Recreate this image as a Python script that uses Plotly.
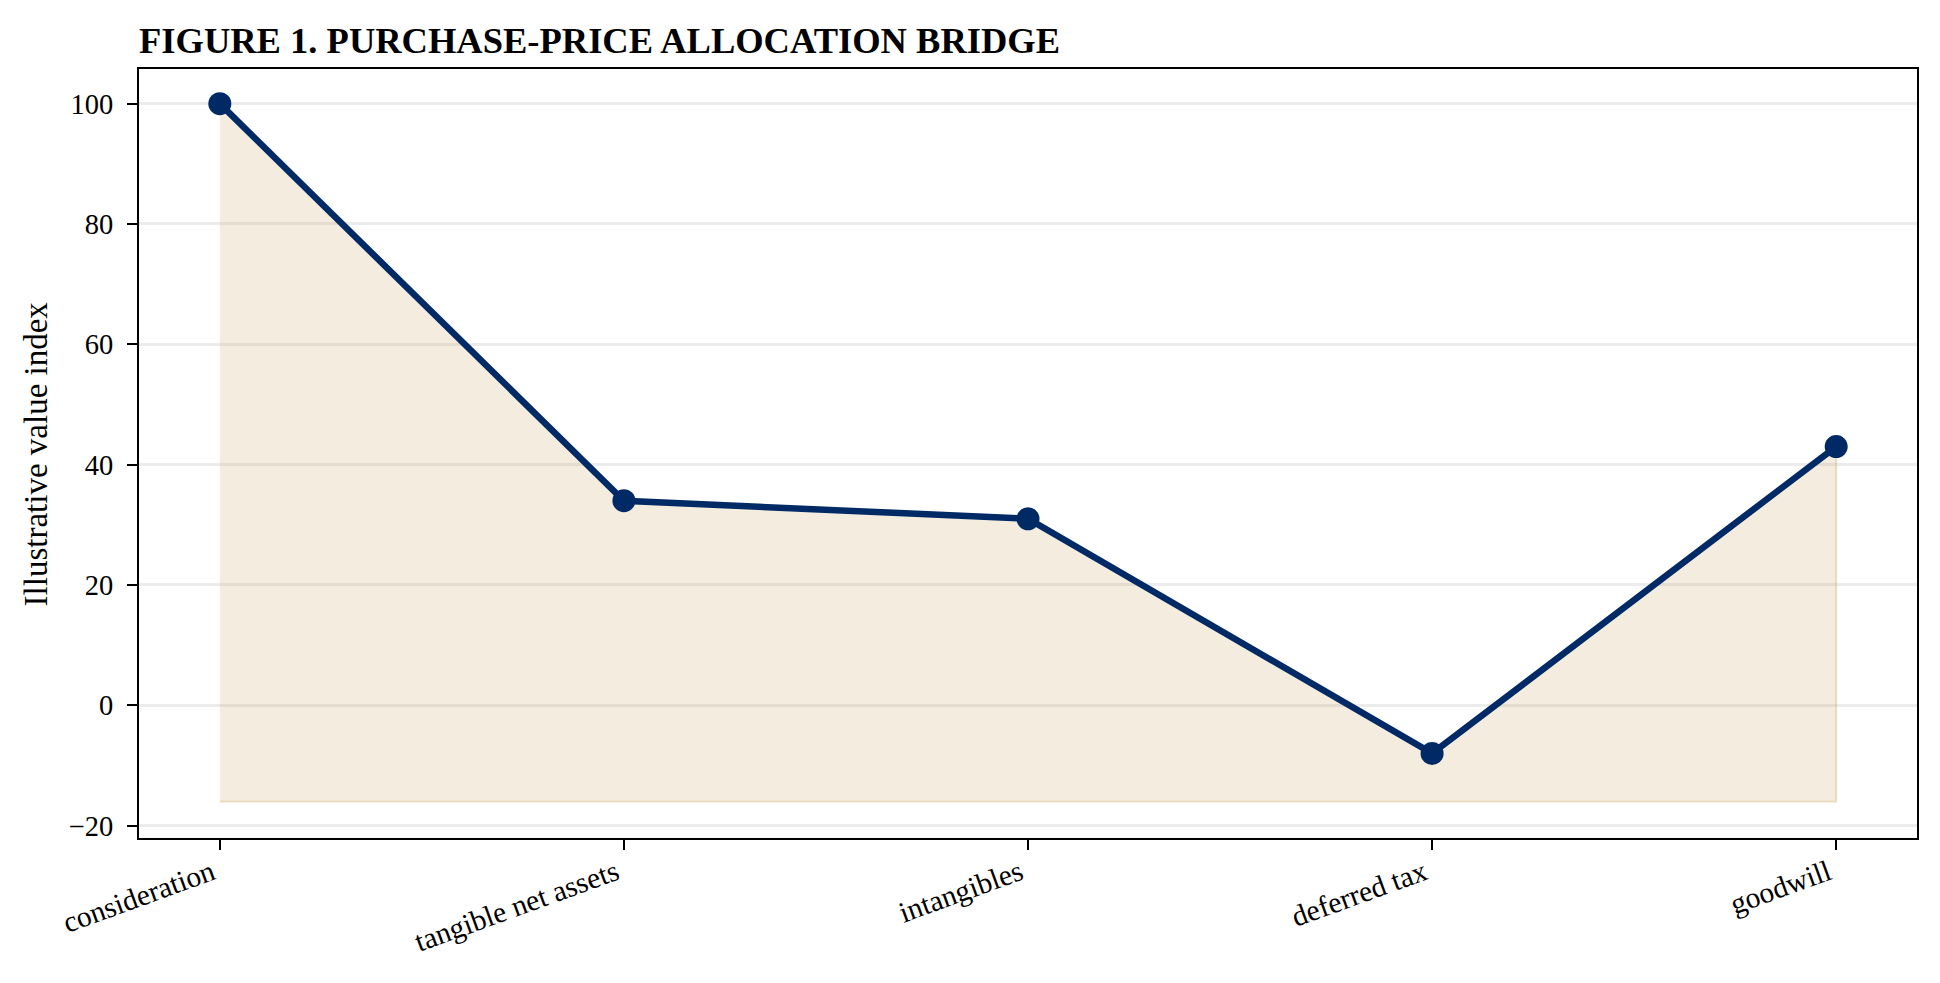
"""
plot.py

* Purchase-price allocation bridge, drawn with plotly
"""

import plotly.graph_objects as go

# categories along the bridge
categories = ["consideration", "tangible net assets", "intangibles", "deferred tax", "goodwill"]

# illustrative value index per step
values = [100, 34, 31, -8, 43]

# lower edge of the shaded area
fill_base = -16

# y tick values
y_ticks = [-20, 0, 20, 40, 60, 80, 100]

FONT = "Liberation Serif"
NAVY = "#002a66"

# the page body adds an 8px margin on every side; keep the figure inside the window
PAGE_OFFSET = 8
WIDTH = 1940 - 2 * PAGE_OFFSET
HEIGHT = 983 - 2 * PAGE_OFFSET

fig = go.Figure()

# shaded area between the line and the base
fig.add_trace(go.Scatter(
    x = categories + categories[::-1],
    y = values + [fill_base] * len(categories),
    fill = "toself",
    fillcolor = "rgba(200, 160, 90, 0.2)",
    line = dict(color = "rgba(200, 160, 90, 0.35)", width = 1.8),
    mode = "lines",
    hoverinfo = "skip",
    showlegend = False,
))

# the bridge line itself
fig.add_trace(go.Scatter(
    x = categories,
    y = values,
    mode = "lines+markers",
    line = dict(color = NAVY, width = 6.5),
    marker = dict(color = NAVY, size = 23),
    showlegend = False,
))

fig.update_layout(
    width = WIDTH,
    height = HEIGHT,
    margin = dict(l = 139 - PAGE_OFFSET, r = WIDTH + PAGE_OFFSET - 1917,
                  t = 69 - PAGE_OFFSET, b = HEIGHT + PAGE_OFFSET - 838),
    plot_bgcolor = "white",
    paper_bgcolor = "white",
    font = dict(family = FONT, size = 29, color = "black"),
    title = dict(
        text = "<b>FIGURE 1. PURCHASE-PRICE ALLOCATION BRIDGE</b>",
        font = dict(family = FONT, size = 36.5, color = "black"),
        x = 0, xref = "paper", xanchor = "left",
        y = 1 - (40 - PAGE_OFFSET) / HEIGHT, yref = "container", yanchor = "middle",
    ),
)

# y axis title as annotation to pin its place
fig.add_annotation(
    text = "Illustrative value index",
    textangle = -90,
    x = -0.058, xref = "paper", xanchor = "center",
    y = 0.5, yref = "paper", yanchor = "middle",
    showarrow = False,
    font = dict(family = FONT, size = 33, color = "black"),
)

fig.update_xaxes(
    type = "category",
    range = [-0.2, 4.2],
    showline = True, linecolor = "black", linewidth = 2.2, mirror = True,
    ticks = "outside", ticklen = 10, tickwidth = 2.2, tickcolor = "black",
    tickangle = -20,
    ticklabelstandoff = -6,
    ticklabelshift = -8,
    showgrid = False,
    tickfont = dict(family = FONT, size = 29.5),
)

fig.update_yaxes(
    range = [-22.06, 105.76],
    tickvals = y_ticks,
    showline = True, linecolor = "black", linewidth = 2.2, mirror = True,
    ticks = "outside", ticklen = 10, tickwidth = 2.2, tickcolor = "black",
    ticklabelstandoff = 8,
    showgrid = True, gridcolor = "#ececec", gridwidth = 2.5,
    zeroline = False,
    tickfont = dict(family = FONT, size = 28.5),
)

fig.write_html("out.html")
